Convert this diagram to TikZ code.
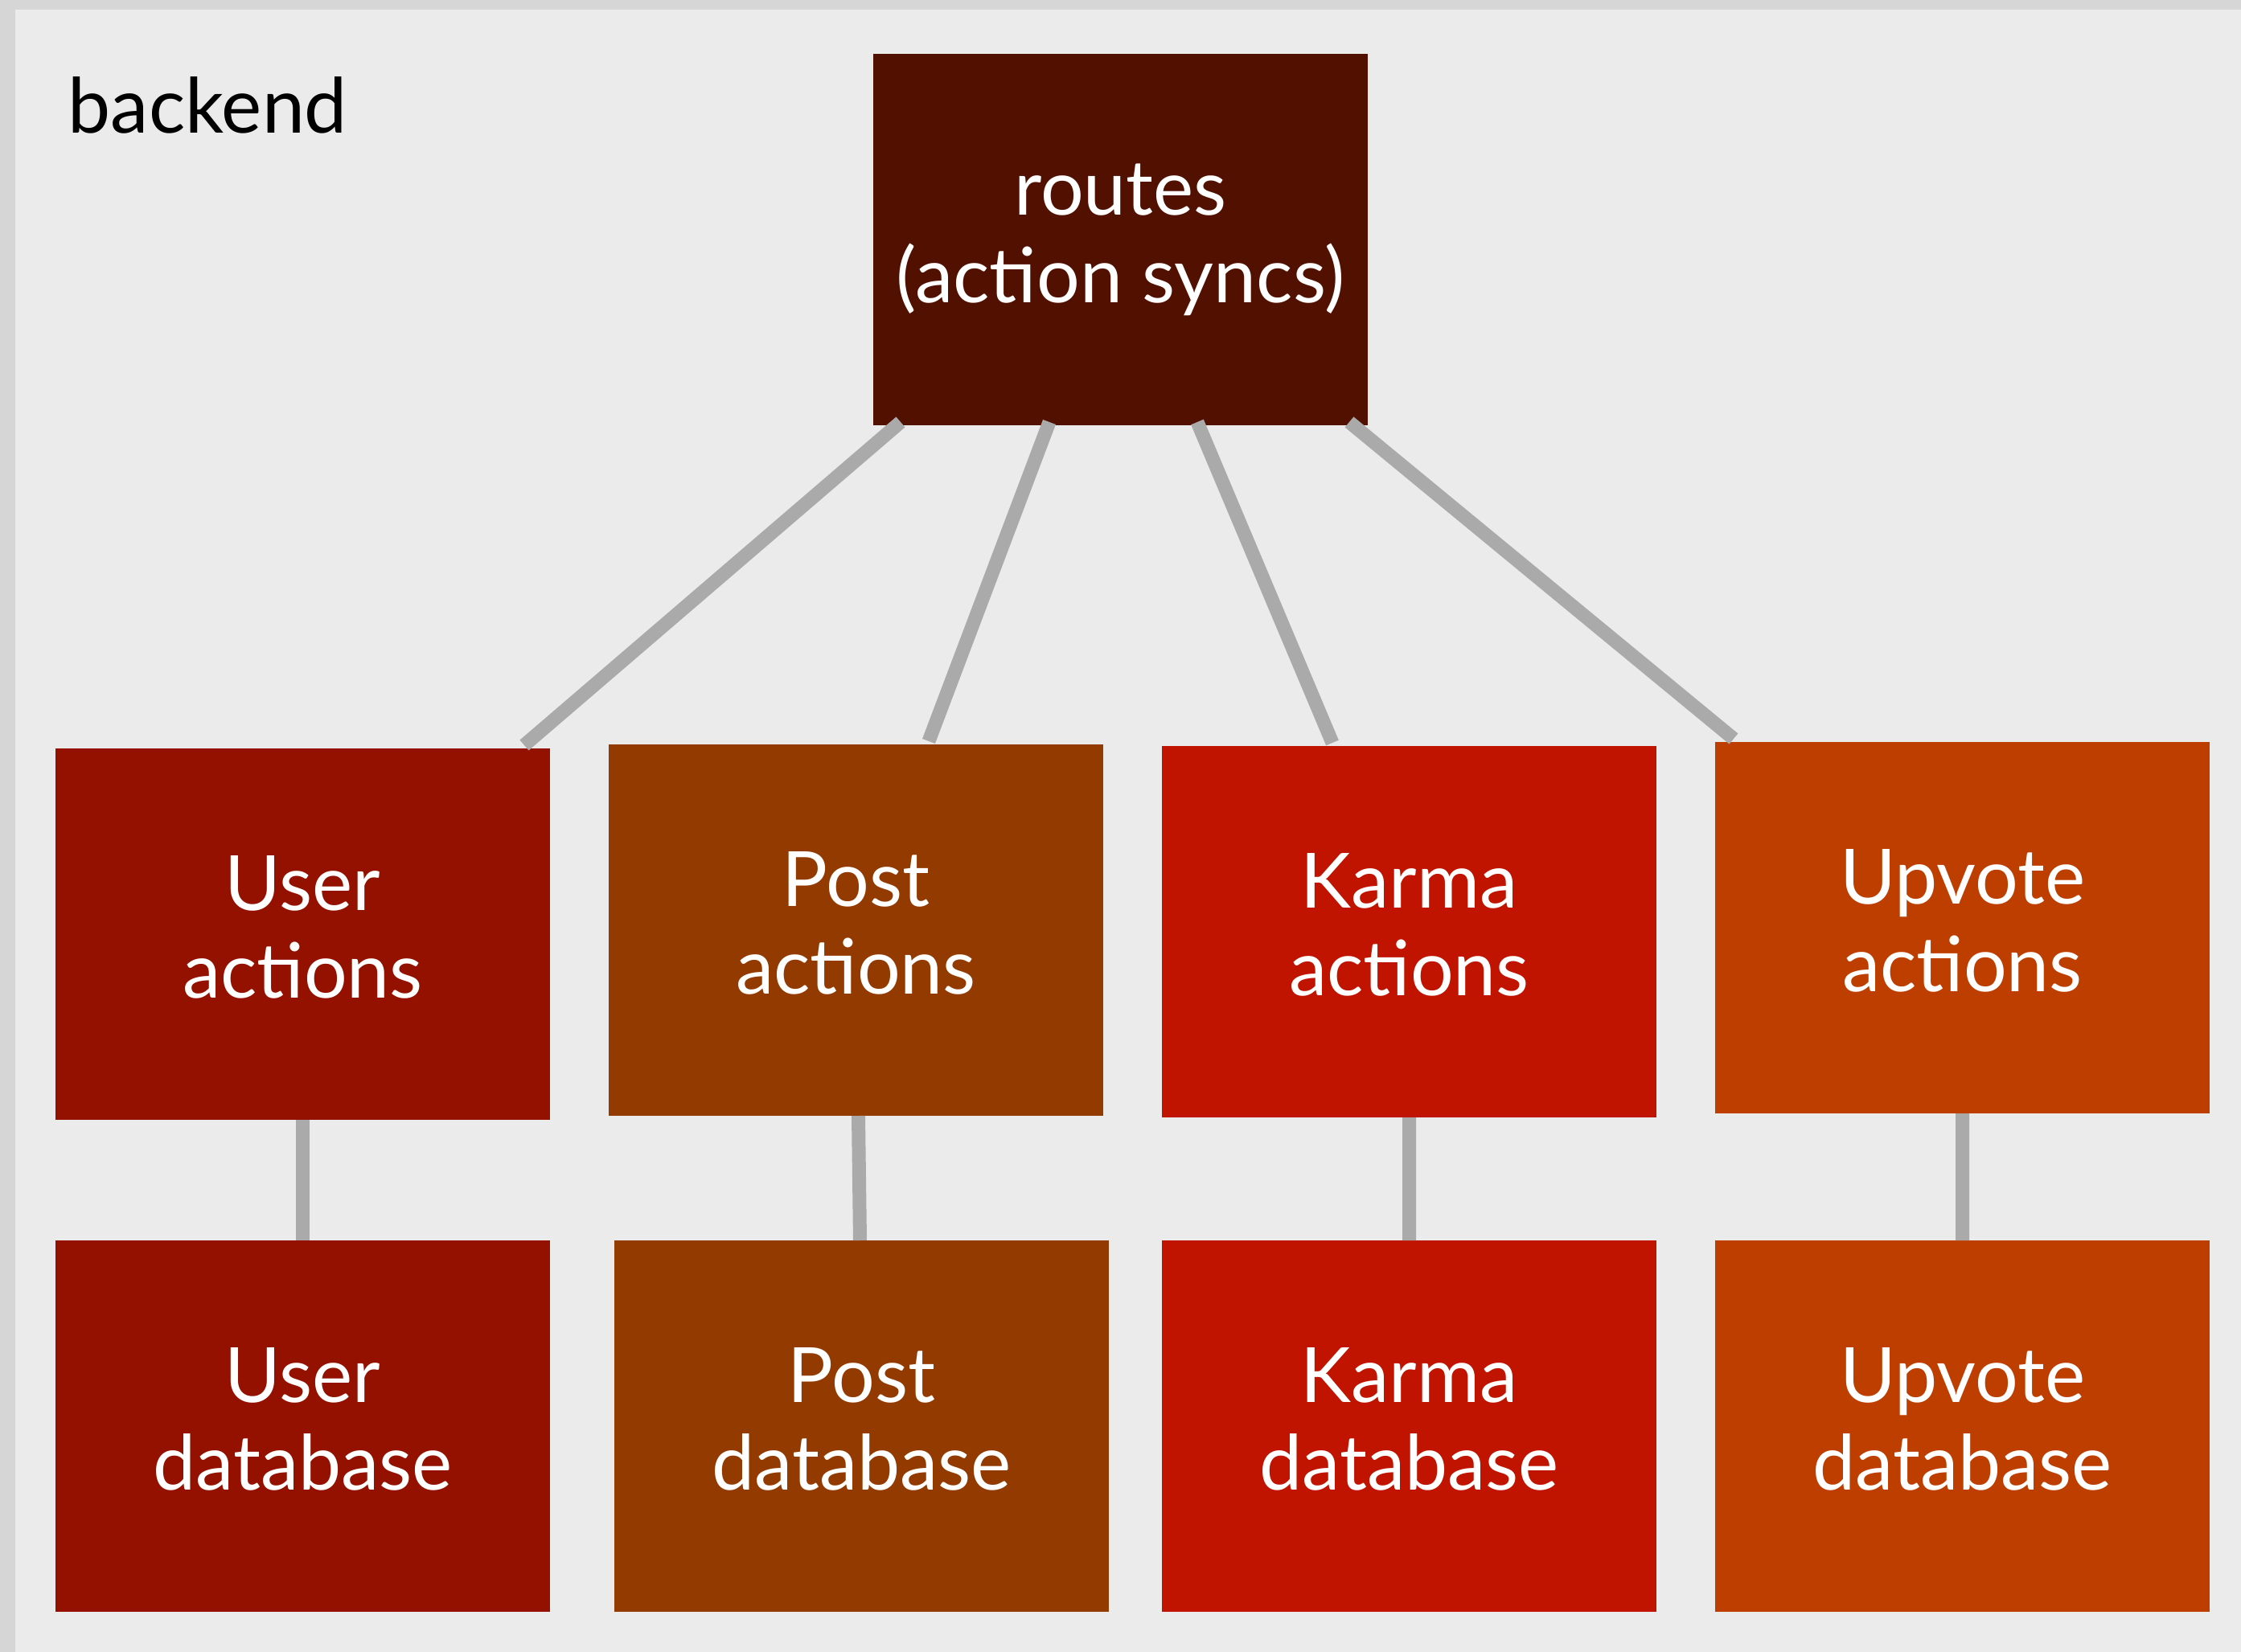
\documentclass[tikz,border=0pt]{standalone}
\usepackage{fontspec}
\setmainfont{Lato}
\usetikzlibrary{positioning}
\definecolor{bgouter}{HTML}{D6D6D6}
\definecolor{bginner}{HTML}{EBEBEB}
\definecolor{linkgray}{HTML}{AAAAAA}
\definecolor{routesred}{HTML}{521000}
\definecolor{userred}{HTML}{941100}
\definecolor{postbrown}{HTML}{933A00}
\definecolor{karmared}{HTML}{C01300}
\definecolor{upvoteorange}{HTML}{BE3E00}

\begin{document}
\begin{tikzpicture}[
    block/.style={minimum width=6.15cm, minimum height=4.62cm, inner sep=0pt, outer sep=0pt,
        text=white, align=center, font=\fontsize{27}{31}\selectfont},
    lowblock/.style={block, text depth=0.18cm},
    link/.style={linkgray, line width=0.17cm}
]

% Background panel with the grey strip on top and left
\fill[bgouter] (0,0) rectangle (27.87,-20.55);
\fill[bginner] (0.19,-0.12) rectangle (27.87,-20.55);
\useasboundingbox (0,0) rectangle (27.87,-20.55);

\node[anchor=base west, inner sep=0pt, font=\fontsize{27}{31}\selectfont] (title) at (0.84,-1.65) {backend};

% Top: the routes block
\node[block, fill=routesred] (routes) at (13.935,-2.98) {routes\\(action syncs)};

% Middle row: the action blocks
\node[lowblock, fill=userred] (user) at (3.765,-11.62) {User\\actions};
\node[lowblock, fill=postbrown, right=0.73cm of user, yshift=0.05cm] (post) {Post\\actions};
\node[lowblock, fill=karmared, right=0.73cm of post, yshift=-0.02cm] (karma) {Karma\\actions};
\node[lowblock, fill=upvoteorange, right=0.73cm of karma, yshift=0.05cm] (upvote) {Upvote\\actions};

% Bottom row: the databases
\node[lowblock, fill=userred, below=1.5cm of user] (userdb) {User\\database};
\node[lowblock, fill=postbrown, right=0.8cm of userdb] (postdb) {Post\\database};
\node[lowblock, fill=karmared, right=0.66cm of postdb] (karmadb) {Karma\\database};
\node[lowblock, fill=upvoteorange, right=0.73cm of karmadb] (upvotedb) {Upvote\\database};

% Links from routes to the action blocks
\draw[link] ([xshift=0.34cm, yshift=0.04cm]routes.south west) -- ([xshift=-0.32cm, yshift=0.04cm]user.north east);
\draw[link] ([xshift=2.19cm, yshift=0.04cm]routes.south west) -- ([xshift=3.98cm, yshift=0.04cm]post.north west);
\draw[link] ([xshift=4.03cm, yshift=0.04cm]routes.south west) -- ([xshift=2.12cm, yshift=0.04cm]karma.north west);
\draw[link] ([xshift=5.92cm, yshift=0.04cm]routes.south west) -- ([xshift=0.23cm, yshift=0.04cm]upvote.north west);

% Links from the action blocks to their databases
\draw[link] (user.south) -- (userdb.north);
\draw[link] ([xshift=0.03cm]post.south) -- ([xshift=-0.02cm]postdb.north);
\draw[link] (karma.south) -- (karmadb.north);
\draw[link] (upvote.south) -- (upvotedb.north);

\end{tikzpicture}
\end{document}
